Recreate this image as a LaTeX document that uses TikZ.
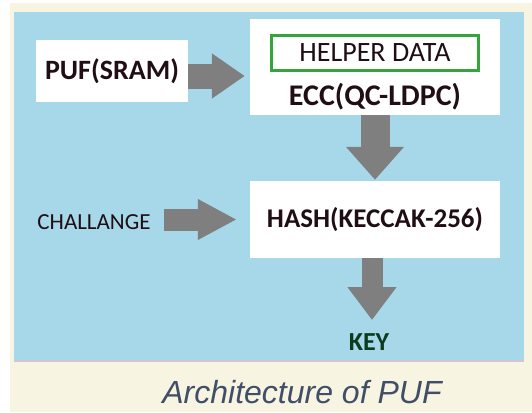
\documentclass[tikz,border=0pt]{standalone}
\usepackage{fontspec}
\newfontfamily\boxfont{Carlito}
\newfontfamily\capfont{Liberation Sans}
\usepackage{tikz}
\usetikzlibrary{shapes,arrows.meta}
\definecolor{cream}{RGB}{247,245,226}
\definecolor{panelblue}{RGB}{166,216,234}
\definecolor{arrowgray}{RGB}{127,127,127}
\definecolor{helpgreen}{RGB}{52,165,58}
\definecolor{inkdark}{RGB}{32,14,20}
\definecolor{keygreen}{RGB}{12,60,30}
\definecolor{capblue}{RGB}{64,78,104}
\tikzstyle{box} = [fill=white, inner sep=0pt, font=\boxfont\bfseries\fontsize{28}{30}\selectfont, text=inkdark]
\tikzstyle{helper} = [draw=helpgreen, line width=3.5pt, fill=white, inner sep=0pt, minimum width=207pt, minimum height=35pt, font=\boxfont\fontsize{28}{30}\selectfont, text=inkdark]
\tikzstyle{boxtext} = [inner sep=0pt, font=\boxfont\bfseries\fontsize{30}{32}\selectfont, text=inkdark]
\tikzstyle{fat} = [draw=arrowgray, line width=25pt, -{Triangle[length=33pt,width=43pt]}]

\begin{document}
\begin{tikzpicture}[x=1pt, y=-1pt]
		% background and panel
		\useasboundingbox (0,0) rectangle (532,412);
		\fill[white] (0,0) rectangle (532,412);
		\fill[cream] (10,3) rectangle (532,412);
		\fill[panelblue] (14,12) rectangle (524,362);
		\draw[draw={rgb,255:red,214;green,196;blue,214}, line width=2pt] (14,361) -- (524,361);
		
		\node [box, minimum width=152pt, minimum height=62pt] (puf) at (112,71) {PUF(SRAM)};
		\node [box, right of=puf, node distance=263pt, yshift=4pt, minimum width=250pt, minimum height=96pt] (ecc) {};
		\node [helper, above of=ecc, node distance=14pt] (helper) {HELPER DATA};
		\node [boxtext, below of=ecc, node distance=30pt] (ecclabel) {ECC(QC-LDPC)};
		\node [box, below of=ecc, node distance=152.5pt, minimum width=250pt, minimum height=77pt, font=\boxfont\bfseries\fontsize{27}{29}\selectfont] (hash) {HASH(KECCAK-256)};
		\node [inner sep=0pt, left of=hash, node distance=281pt, yshift=-2.5pt, font=\boxfont\fontsize{23}{25}\selectfont, text=inkdark] (chal) {CHALLANGE};
		\node [inner sep=0pt, below of=hash, node distance=122.5pt, xshift=-6pt, font=\boxfont\bfseries\fontsize{26}{28}\selectfont, text=keygreen] (key) {KEY};
		\node [inner sep=0pt, text=capblue, font=\capfont\itshape\fontsize{32}{34}\selectfont] (caption) at (302,392) {Architecture of PUF};
		
		\draw [fat, shorten >=5pt] ([yshift=-5pt]puf.east) -- ([yshift=-5pt]puf.east -| ecc.west);
		\draw [fat, line width=29pt, -{Triangle[length=33pt,width=56pt]}, shorten >=1pt] (ecc.south) -- (hash.north);
		\draw [fat, line width=21pt, -{Triangle[length=33pt,width=47pt]}, shorten >=22pt] ([xshift=-3pt]hash.south) -- ([xshift=-3pt]hash.south |- key.center);
		\draw [fat, line width=22pt, -{Triangle[length=39pt,width=38pt]}, shorten <=13pt, shorten >=13pt] (hash.west -| chal.east) -- (hash.west);
		
		
		\end{tikzpicture}
\end{document}
